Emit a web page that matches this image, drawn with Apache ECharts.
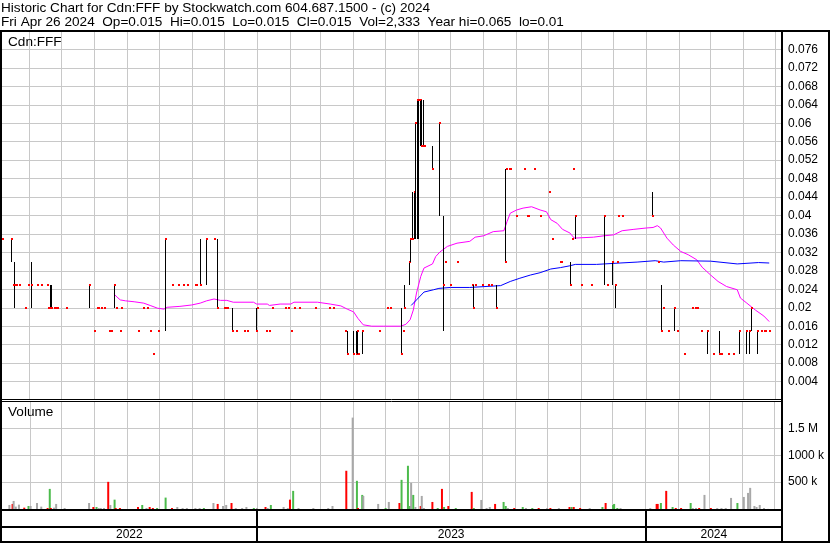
<!DOCTYPE html>
<html>
<head>
<meta charset="utf-8">
<script src="https://cdn.jsdelivr.net/npm/echarts@6/dist/echarts.min.js"></script>
<style>html,body{margin:0;padding:0;background:#fff}#c{width:830px;height:543px}</style>
</head>
<body>
<div id="c"></div>
<script>
// ---------------- DATA ----------------
const titleLines = [
  'Historic Chart for Cdn:FFF by Stockwatch.com 604.687.1500 - (c) 2024',
  'Fri Apr 26 2024  Op=0.015  Hi=0.015  Lo=0.015  Cl=0.015  Vol=2,333  Year hi=0.065  lo=0.01'
];
const symbolLabel = 'Cdn:FFF';
const volumeLabel = 'Volume';

const priceDates = [
'2022-05-07','2022-05-15','2022-05-17','2022-05-18','2022-05-19','2022-05-20','2022-05-23','2022-05-29','2022-05-31','2022-06-03',
'2022-06-09','2022-06-13','2022-06-18','2022-06-19','2022-06-21','2022-06-22','2022-06-25','2022-06-26','2022-06-28','2022-07-06',
'2022-07-28','2022-08-01','2022-08-04','2022-08-05','2022-08-08','2022-08-11','2022-08-15','2022-08-17','2022-08-20','2022-08-22',
'2022-08-26','2022-08-27','2022-09-12','2022-09-16','2022-09-20','2022-09-23','2022-09-26','2022-09-30','2022-10-07','2022-10-14',
'2022-10-19','2022-10-24','2022-10-28','2022-11-04','2022-11-05','2022-11-09','2022-11-14','2022-11-22','2022-11-25','2022-12-01',
'2022-12-03','2022-12-04','2022-12-09','2022-12-13','2022-12-20','2022-12-23','2022-12-31','2023-01-01','2023-01-10','2023-01-13',
'2023-01-15','2023-01-28','2023-01-30','2023-02-02','2023-02-05','2023-02-10','2023-02-25','2023-03-10','2023-03-14','2023-03-25',
'2023-03-27','2023-04-01','2023-04-04','2023-04-05','2023-04-06','2023-04-10','2023-04-26','2023-05-03','2023-05-06','2023-05-16',
'2023-05-18','2023-05-19','2023-05-24','2023-05-25','2023-05-27','2023-05-29','2023-05-30','2023-05-31','2023-06-01','2023-06-03',
'2023-06-04','2023-06-06','2023-06-07','2023-06-15','2023-06-21','2023-06-25','2023-06-27','2023-07-01','2023-07-08','2023-07-22',
'2023-07-23','2023-07-25','2023-07-31','2023-08-06','2023-08-09','2023-08-14','2023-08-22','2023-08-23','2023-08-26','2023-08-27',
'2023-09-01','2023-09-09','2023-09-12','2023-09-13','2023-09-18','2023-09-24','2023-10-02','2023-10-05','2023-10-13','2023-10-14',
'2023-10-22','2023-10-24','2023-10-25','2023-10-27','2023-11-01','2023-11-11','2023-11-23','2023-11-26','2023-11-30','2023-12-03',
'2023-12-05','2023-12-06','2023-12-10','2024-01-07','2024-01-13','2024-01-15','2024-01-17','2024-01-22','2024-01-28','2024-01-30',
'2024-02-06','2024-02-14','2024-02-16','2024-02-18','2024-02-22','2024-02-28','2024-03-04','2024-03-10','2024-03-12','2024-03-18',
'2024-03-23','2024-03-29','2024-04-04','2024-04-07','2024-04-09','2024-04-15','2024-04-18','2024-04-21','2024-04-22','2024-04-26'
];
const priceClose = [
.035,.035,.025,.025,.025,.025,.025,.020,.025,.025,
.025,.025,.025,.020,.020,.020,.020,.020,.020,.020,
.025,.015,.020,.020,.020,.020,.015,.015,.025,.020,
.015,.020,.015,.020,.020,.015,.010,.015,.035,.025,
.025,.025,.025,.025,.025,.025,.035,.035,.020,.020,
.020,.020,.015,.015,.015,.015,.015,.020,.015,.015,
.020,.020,.020,.015,.020,.020,.020,.020,.020,.015,
.010,.010,.010,.015,.010,.015,.015,.020,.020,.010,
.015,.020,.030,.035,.035,.045,.060,.065,.065,.065,
.055,.055,.055,.050,.060,.025,.030,.025,.030,.025,
.020,.025,.025,.025,.025,.020,.030,.050,.050,.050,
.040,.050,.040,.040,.050,.040,.045,.035,.030,.030,
.025,.035,.050,.040,.025,.025,.040,.025,.030,.025,
.030,.040,.040,.040,.030,.015,.020,.015,.020,.015,
.010,.020,.020,.020,.015,.015,.010,.010,.010,.010,
.010,.015,.015,.015,.020,.015,.015,.015,.015,.015
];
const priceHigh = [
.035,.035,.025,.030,.025,.025,.025,.020,.025,.030,
.025,.025,.025,.020,.025,.025,.020,.020,.020,.020,
.025,.015,.020,.020,.020,.020,.015,.015,.025,.020,
.015,.020,.015,.020,.020,.015,.010,.015,.035,.025,
.025,.025,.025,.025,.025,.035,.035,.035,.035,.020,
.020,.020,.020,.015,.015,.015,.020,.020,.015,.015,
.020,.020,.020,.015,.020,.020,.020,.020,.020,.015,
.015,.015,.015,.015,.010,.015,.015,.020,.020,.020,
.015,.025,.030,.035,.045,.045,.060,.065,.065,.065,
.065,.065,.055,.055,.060,.040,.030,.025,.030,.025,
.025,.025,.025,.025,.025,.025,.050,.050,.050,.050,
.040,.050,.040,.040,.050,.040,.045,.035,.030,.030,
.030,.035,.050,.040,.025,.025,.040,.025,.030,.025,
.030,.040,.040,.045,.030,.025,.020,.015,.020,.015,
.010,.020,.020,.020,.015,.015,.010,.015,.010,.010,
.010,.015,.015,.015,.020,.015,.015,.015,.015,.015
];
const priceLow = [
.035,.030,.025,.020,.025,.025,.025,.020,.025,.020,
.025,.025,.025,.020,.020,.020,.020,.020,.020,.020,
.020,.015,.020,.020,.020,.020,.015,.015,.020,.020,
.015,.020,.015,.020,.020,.015,.010,.015,.015,.025,
.025,.025,.025,.025,.025,.025,.025,.035,.020,.020,
.020,.020,.015,.015,.015,.015,.015,.020,.015,.015,
.020,.020,.020,.015,.020,.020,.020,.020,.020,.015,
.010,.010,.010,.010,.010,.010,.015,.020,.020,.010,
.015,.020,.025,.030,.035,.035,.035,.035,.035,.055,
.055,.055,.055,.050,.040,.015,.030,.025,.030,.025,
.020,.025,.025,.025,.025,.020,.030,.050,.050,.050,
.040,.050,.040,.040,.050,.040,.045,.035,.030,.030,
.025,.035,.050,.035,.025,.025,.025,.025,.025,.020,
.030,.040,.040,.040,.030,.015,.020,.015,.015,.015,
.010,.020,.020,.020,.015,.010,.010,.010,.010,.010,
.010,.010,.010,.010,.015,.010,.015,.015,.015,.015
];

const volDates = [
'2022-05-13','2022-05-16','2022-05-17','2022-05-19','2022-05-22','2022-05-27','2022-05-31','2022-06-02','2022-06-08','2022-06-12',
'2022-06-18','2022-06-20','2022-06-21','2022-06-24','2022-06-26','2022-07-04','2022-07-27','2022-07-31','2022-08-03','2022-08-05',
'2022-08-07','2022-08-10','2022-08-14','2022-08-16','2022-08-20','2022-08-21','2022-08-25','2022-09-11','2022-09-15','2022-09-19',
'2022-09-22','2022-09-25','2022-09-29','2022-10-07','2022-10-13','2022-10-18','2022-10-23','2022-10-27','2022-11-04','2022-11-08',
'2022-11-12','2022-11-21','2022-11-25','2022-11-30','2022-12-03','2022-12-08','2022-12-12','2022-12-18','2022-12-22','2022-12-29',
'2023-01-01','2023-01-09','2023-01-11','2023-01-14','2023-01-26','2023-01-30','2023-02-01','2023-02-04','2023-02-09','2023-02-23',
'2023-03-09','2023-03-13','2023-03-26','2023-04-01','2023-04-05','2023-04-06','2023-04-10','2023-04-11','2023-04-25','2023-05-02',
'2023-05-05','2023-05-15','2023-05-17','2023-05-23','2023-05-25','2023-05-26','2023-05-28','2023-05-30','2023-06-04','2023-06-05',
'2023-06-07','2023-06-15','2023-06-20','2023-06-24','2023-06-26','2023-06-30','2023-07-07','2023-07-22','2023-07-24','2023-07-31',
'2023-08-05','2023-08-08','2023-08-13','2023-08-21','2023-08-23','2023-08-25','2023-08-31','2023-09-08','2023-09-11','2023-09-17',
'2023-09-23','2023-10-01','2023-10-04','2023-10-12','2023-10-22','2023-10-24','2023-10-26','2023-11-01','2023-11-10','2023-11-22',
'2023-11-25','2023-12-02','2023-12-03','2023-12-06','2023-12-09','2024-01-06','2024-01-12','2024-01-13','2024-01-16','2024-01-21',
'2024-01-27','2024-01-30','2024-02-04','2024-02-13','2024-02-15','2024-02-18','2024-02-21','2024-02-26','2024-03-03','2024-03-09',
'2024-03-13','2024-03-17','2024-03-22','2024-03-28','2024-04-03','2024-04-07','2024-04-09','2024-04-13','2024-04-15','2024-04-18',
'2024-04-22','2024-04-26'
];
const volValues = [
75000,94000,150000,44000,81000,25000,56000,56000,112000,44000,
19000,374000,19000,25000,94000,19000,112000,37000,37000,19000,
19000,19000,505000,75000,174000,19000,19000,37000,75000,19000,
37000,19000,19000,212000,19000,37000,19000,19000,19000,19000,
19000,112000,94000,56000,75000,112000,19000,19000,37000,19000,
19000,37000,19000,75000,37000,19000,174000,337000,19000,19000,
19000,56000,711000,1700000,524000,19000,262000,243000,94000,19000,
131000,112000,542000,804000,56000,486000,262000,37000,56000,243000,
19000,131000,19000,374000,37000,56000,19000,318000,19000,168000,
19000,37000,94000,131000,56000,19000,19000,37000,19000,19000,
19000,19000,19000,19000,37000,37000,37000,19000,19000,37000,
112000,75000,94000,19000,19000,19000,94000,94000,112000,337000,
37000,19000,19000,112000,19000,19000,19000,262000,19000,19000,
19000,19000,206000,112000,224000,299000,393000,56000,37000,75000,
19000,2333
];
// r = down, g = up, n = unchanged
const volDir = [
'n','r','n','n','n','r','g','n','n','n',
'r','g','r','n','n','n','n','r','g','n',
'n','n','r','n','g','r','r','r','g','n',
'r','r','g','g','r','n','n','n','n','n',
'g','n','r','n','n','r','n','n','n','g',
'n','r','n','g','n','n','r','g','n','n',
'n','n','r','n','g','r','g','n','n','g',
'n','r','g','g','g','n','g','n','r','n',
'n','r','g','r','g','r','g','r','g','n',
'n','n','r','g','g','n','r','g','n','g',
'r','n','r','n','r','g','r','r','n','g',
'r','g','g','g','n','n','r','r','g','r',
'g','r','r','g','n','n','r','n','r','n',
'n','n','n','g','n','n','n','n','n','n',
'n','n'
];

const maFastDates = [
'2022-08-20','2022-08-23','2022-08-26','2022-08-31','2022-09-08','2022-09-17','2022-09-23','2022-09-30','2022-10-06','2022-10-09',
'2022-10-21','2022-11-01','2022-11-09','2022-11-15','2022-11-22','2022-11-28','2022-12-04','2022-12-10','2022-12-29','2023-01-01',
'2023-01-11','2023-01-13','2023-01-23','2023-02-02','2023-02-05','2023-02-27','2023-03-11','2023-03-21','2023-03-27','2023-04-02',
'2023-04-06','2023-04-11','2023-04-19','2023-04-30','2023-05-16','2023-05-21','2023-05-25','2023-05-28','2023-05-31','2023-06-04',
'2023-06-07','2023-06-15','2023-06-18','2023-06-22','2023-06-29','2023-07-08','2023-07-20','2023-07-25','2023-08-02','2023-08-11',
'2023-08-21','2023-08-24','2023-08-27','2023-09-02','2023-09-08','2023-09-16','2023-09-24','2023-09-30','2023-10-04','2023-10-10',
'2023-10-15','2023-10-22','2023-10-26','2023-11-13','2023-11-23','2023-12-02','2023-12-10','2023-12-21','2024-01-02','2024-01-08',
'2024-01-12','2024-01-15','2024-01-21','2024-01-27','2024-02-03','2024-02-10','2024-02-18','2024-02-23','2024-03-02','2024-03-09',
'2024-03-17','2024-03-27','2024-03-30','2024-04-05','2024-04-13','2024-04-21','2024-04-26'
];
const maFastValues = [
.0230,.0223,.0217,.0215,.0213,.0210,.0205,.0199,.0197,.0201,
.0203,.0206,.0210,.0215,.0219,.0216,.0216,.0212,.0212,.0208,
.0208,.0205,.0208,.0208,.0212,.0212,.0208,.0204,.0197,.0191,
.0177,.0163,.0160,.0160,.0160,.0164,.0174,.0195,.0232,.0268,
.0286,.0295,.0311,.0321,.0333,.0340,.0344,.0353,.0356,.0365,
.0367,.0387,.0405,.0412,.0416,.0419,.0412,.0408,.0391,.0383,
.0370,.0362,.0351,.0353,.0356,.0358,.0367,.0370,.0373,.0374,
.0378,.0373,.0351,.0336,.0322,.0315,.0304,.0288,.0271,.0257,
.0246,.0239,.0221,.0210,.0195,.0182,.0170
];
const maSlowDates = [
'2023-05-26','2023-05-31','2023-06-07','2023-06-16','2023-06-21','2023-07-02','2023-07-20','2023-08-18','2023-08-27','2023-09-05',
'2023-09-15','2023-09-24','2023-10-04','2023-10-13','2023-10-22','2023-10-27','2023-11-16','2023-12-08','2023-12-24','2024-01-10',
'2024-01-18','2024-02-03','2024-03-02','2024-03-27','2024-04-16','2024-04-26'
];
const maSlowValues = [
.0205,.0217,.0234,.0239,.0242,.0244,.0244,.0248,.0257,.0264,
.0271,.0276,.0284,.0287,.0291,.0294,.0294,.0297,.0299,.0302,
.0299,.0302,.0301,.0295,.0298,.0297
];

const monthTicks = [
'2022-06-01','2022-07-01','2022-08-01','2022-09-01','2022-10-01','2022-11-01','2022-12-01',
'2023-01-01','2023-02-01','2023-03-01','2023-04-01','2023-05-01','2023-06-01','2023-07-01',
'2023-08-01','2023-09-01','2023-10-01','2023-11-01','2023-12-01',
'2024-01-01','2024-02-01','2024-03-01','2024-04-01','2024-05-01'
];
const years = ['2022','2023','2024'];
const yearStarts = ['2022-05-07','2023-01-01','2024-01-01'];
const yearEnds = ['2023-01-01','2024-01-01','2024-05-08'];
const yearBoundaries = ['2023-01-01','2024-01-01'];
const volTickValues = [500000, 1000000, 1500000];
const volTickLabels = ['500 k', '1000 k', '1.5 M'];
const axisStart = '2022-05-07';
const axisEnd = '2024-05-08';

// ---------------- CHART ----------------
const ts = s => { const p = s.split('-').map(Number); return new Date(p[0], p[1] - 1, p[2]).getTime(); };
const FONT = '"Liberation Sans", Arial, sans-serif';
const GRID_COLOR = '#c8c8c8';
const X_MIN = ts(axisStart), X_MAX = ts(axisEnd);

const volColors = { r: '#ff0000', g: '#4cbb4c', n: '#a8a8a8' };
const priceData = priceDates.map((d, i) => [ts(d), priceHigh[i], priceLow[i], priceClose[i]]);
const volData = volDates.map((d, i) => ({ value: [ts(d), volValues[i]], itemStyle: { color: volColors[volDir[i]] } }));

function vGrid(params, api) {
  const cs = params.coordSys;
  const x = Math.round(api.coord([api.value(0), 0])[0]) + 0.5;
  return { type: 'line', shape: { x1: x, y1: cs.y, x2: x, y2: cs.y + cs.height }, style: { stroke: GRID_COLOR, lineWidth: 1 } };
}
function priceItem(params, api) {
  const t = api.value(0);
  const hi = api.coord([t, api.value(1)]);
  const lo = api.coord([t, api.value(2)]);
  const cl = api.coord([t, api.value(3)]);
  const x = Math.round(hi[0]);
  const children = [];
  if (Math.abs(lo[1] - hi[1]) > 0.5) {
    children.push({ type: 'line', shape: { x1: x + 0.5, y1: Math.round(hi[1]), x2: x + 0.5, y2: Math.round(lo[1]) }, style: { stroke: '#000', lineWidth: 1 } });
  }
  children.push({ type: 'rect', shape: { x: x, y: Math.round(cl[1] - 1), width: 2, height: 2 }, style: { fill: '#ff0000' } });
  return { type: 'group', children };
}
function yearSep(params, api) {
  const cs = params.coordSys;
  const x = Math.round(api.coord([api.value(0), 0])[0]);
  return { type: 'line', shape: { x1: x, y1: cs.y, x2: x, y2: cs.y + cs.height }, style: { stroke: '#000', lineWidth: 2 } };
}
function yearLabel(params, api) {
  const a = api.coord([api.value(0), 0]);
  const b = api.coord([api.value(1), 15]);
  return { type: 'text', x: (a[0] + b[0]) / 2, y: (a[1] + b[1]) / 2,
    style: { text: years[params.dataIndex], align: 'center', verticalAlign: 'middle', textAlign: 'center', textVerticalAlign: 'middle',
      fill: '#000', fontSize: 12, fontFamily: FONT } };
}

const chart = echarts.init(document.getElementById('c'), null, { renderer: 'canvas' });
const titleStyle = { fontSize: 13.6, fontWeight: 'normal', color: '#000', fontFamily: FONT, lineHeight: 14 };
const option = {
  animation: false,
  backgroundColor: '#fff',
  textStyle: { fontFamily: FONT },
  title: [
    { text: titleLines.join('\n'), left: 1, top: 1, padding: 0, textStyle: titleStyle },
    { text: symbolLabel, left: 8, top: 35, padding: 0, textStyle: titleStyle },
    { text: volumeLabel, left: 8, top: 405, padding: 0, textStyle: titleStyle }
  ],
  grid: [
    { left: 2, top: 31, width: 780, height: 369, outerBoundsMode: 'none' },
    { left: 2, top: 402, width: 780, height: 107, outerBoundsMode: 'none' },
    { left: 2, top: 510, width: 780, height: 32, outerBoundsMode: 'none' }
  ],
  xAxis: [0, 1, 2].map(i => ({ type: 'time', gridIndex: i, min: X_MIN, max: X_MAX, show: false })),
  yAxis: [
    { type: 'value', gridIndex: 0, position: 'right', min: 0, max: 0.08, interval: 0.004,
      axisLine: { show: false }, axisTick: { show: false },
      axisLabel: { margin: 6, fontSize: 12, color: '#000', fontFamily: FONT,
        formatter: v => (v <= 0 || v >= 0.0799) ? '' : String(+v.toFixed(3)) },
      splitLine: { show: true, showMinLine: false, showMaxLine: false, lineStyle: { color: GRID_COLOR, width: 1 } } },
    { type: 'value', gridIndex: 1, position: 'right', min: 0, max: 1990000, interval: 500000,
      axisLine: { show: false }, axisTick: { show: false },
      axisLabel: { margin: 6, fontSize: 12, color: '#000', fontFamily: FONT,
        formatter: v => { const k = volTickValues.indexOf(Math.round(v)); return k >= 0 ? volTickLabels[k] : ''; } },
      splitLine: { show: true, showMinLine: false, showMaxLine: false, lineStyle: { color: GRID_COLOR, width: 1 } } },
    { type: 'value', gridIndex: 2, min: 0, max: 32, show: false }
  ],
  series: [
    { type: 'custom', coordinateSystem: 'cartesian2d', xAxisIndex: 0, yAxisIndex: 0, silent: true, z: 1,
      data: monthTicks.map(m => [ts(m), 0]), encode: { x: 0, y: 1 }, renderItem: vGrid },
    { type: 'custom', coordinateSystem: 'cartesian2d', xAxisIndex: 1, yAxisIndex: 1, silent: true, z: 1,
      data: monthTicks.map(m => [ts(m), 0]), encode: { x: 0, y: 1 }, renderItem: vGrid },
    { type: 'line', xAxisIndex: 0, yAxisIndex: 0, silent: true, z: 3, showSymbol: false, symbol: 'none',
      data: maFastDates.map((d, i) => [ts(d), maFastValues[i]]),
      lineStyle: { color: '#ff00ff', width: 1 }, itemStyle: { color: '#ff00ff' } },
    { type: 'line', xAxisIndex: 0, yAxisIndex: 0, silent: true, z: 3, showSymbol: false, symbol: 'none',
      data: maSlowDates.map((d, i) => [ts(d), maSlowValues[i]]),
      lineStyle: { color: '#0000ff', width: 1 }, itemStyle: { color: '#0000ff' } },
    { type: 'custom', coordinateSystem: 'cartesian2d', xAxisIndex: 0, yAxisIndex: 0, silent: true, z: 4,
      data: priceData, encode: { x: 0, y: [1, 2, 3] }, renderItem: priceItem },
    { type: 'bar', xAxisIndex: 1, yAxisIndex: 1, silent: true, z: 3, barWidth: 2, data: volData },
    { type: 'custom', coordinateSystem: 'cartesian2d', xAxisIndex: 2, yAxisIndex: 2, silent: true, z: 5,
      data: yearBoundaries.map(d => [ts(d), 0]), encode: { x: 0, y: 1 }, renderItem: yearSep },
    { type: 'custom', coordinateSystem: 'cartesian2d', xAxisIndex: 2, yAxisIndex: 2, silent: true, z: 5,
      data: years.map((y, i) => [ts(yearStarts[i]), ts(yearEnds[i])]), encode: { x: [0, 1] }, renderItem: yearLabel }
  ],
  graphic: [
    { type: 'rect', z: 100, silent: true, shape: { x: 1, y: 31, width: 828, height: 511 }, style: { fill: 'transparent', stroke: '#000', lineWidth: 2 } },
    { type: 'line', z: 100, silent: true, shape: { x1: 782, y1: 31, x2: 782, y2: 542 }, style: { stroke: '#000', lineWidth: 2 } },
    { type: 'line', z: 100, silent: true, shape: { x1: 1, y1: 399.5, x2: 782, y2: 399.5 }, style: { stroke: '#000', lineWidth: 1 } },
    { type: 'line', z: 100, silent: true, shape: { x1: 1, y1: 401.5, x2: 782, y2: 401.5 }, style: { stroke: '#000', lineWidth: 1 } },
    { type: 'line', z: 100, silent: true, shape: { x1: 1, y1: 510, x2: 782, y2: 510 }, style: { stroke: '#000', lineWidth: 2 } },
    { type: 'line', z: 100, silent: true, shape: { x1: 1, y1: 527, x2: 782, y2: 527 }, style: { stroke: '#000', lineWidth: 2 } }
  ]
};
chart.setOption(option);
</script>
</body>
</html>
